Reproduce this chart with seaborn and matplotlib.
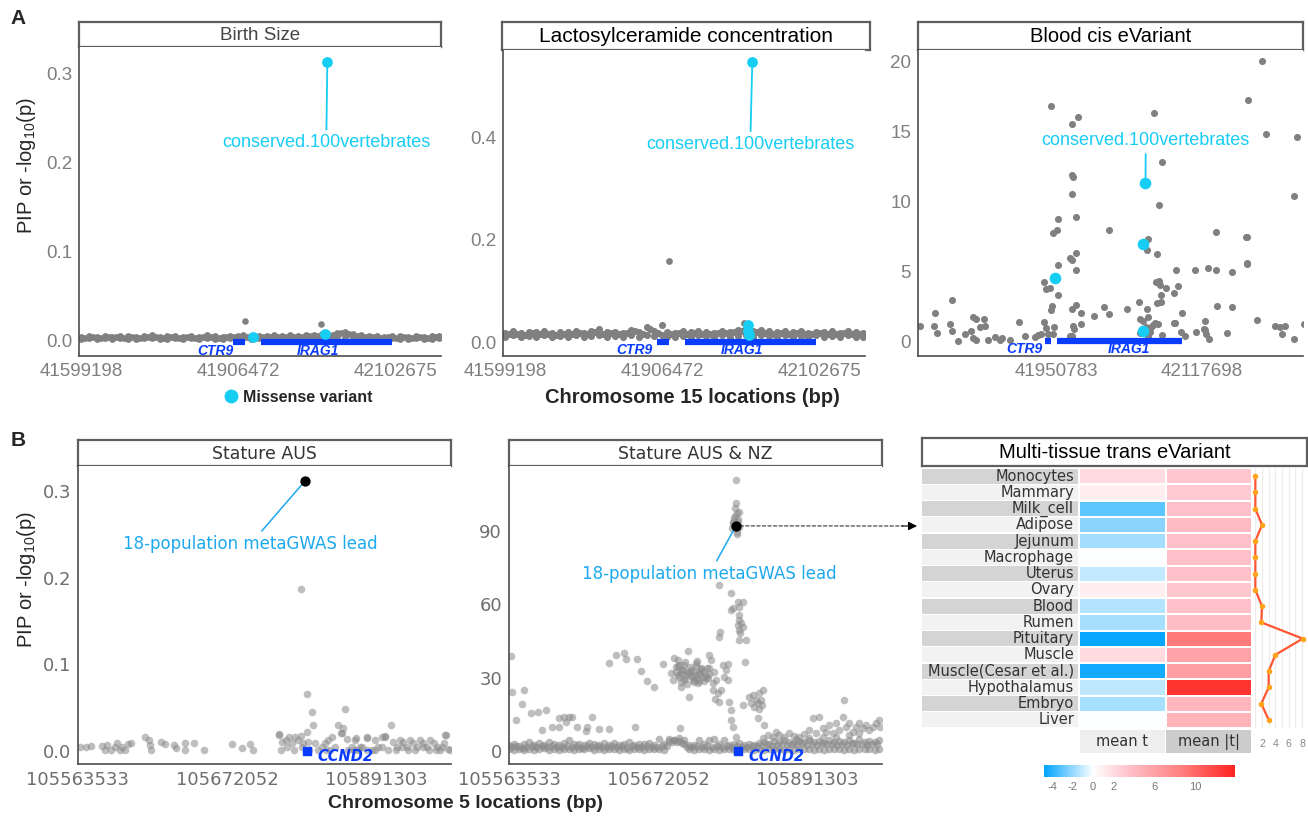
import pandas as pd
import matplotlib.pyplot as plt
import seaborn as sns
from matplotlib.colors import LinearSegmentedColormap
from matplotlib.lines import Line2D

sns.set_style('white')
plt.rcParams['font.family'] = ['Liberation Sans', 'DejaVu Sans']
plt.rcParams['mathtext.default'] = 'regular'
plt.rcParams['axes.unicode_minus'] = False

# ---------------- data ----------------
# panel A: chromosome 15 locus (x = position index along the locus)
a_ticks = [0, 100, 200]
a_ticklabels = ['41599198', '41906472', '42102675']
a3_ticks = [100, 200]
a3_ticklabels = ['41950783', '42117698']

a_band_x = [0, 5, 10, 15, 20, 25, 30, 35, 40, 45,
            50, 55, 60, 65, 70, 75, 80, 85, 90, 95,
            100, 103, 108, 113, 118, 123, 128, 133, 138, 143,
            148, 153, 158, 163, 168, 173, 178, 183, 188, 193,
            198, 203, 208, 213, 218, 223, 228]
a_band_x2 = [2.5, 7.5, 12.5, 17.5, 22.5, 27.5, 32.5, 37.5, 42.5, 47.5,
             52.5, 57.5, 62.5, 67.5, 72.5, 77.5, 82.5, 87.5, 92.5, 97.5,
             105.5, 110.5, 115.5, 120.5, 125.5, 130.5, 135.5, 140.5, 145.5, 150.5,
             155.5, 160.5, 165.5, 170.5, 175.5, 180.5, 185.5, 190.5, 195.5, 200.5,
             205.5, 210.5, 215.5, 220.5, 225.5]
a1_band_lo = [0.0015, 0.002, 0.001, 0.0018, 0.0012, 0.002, 0.0015, 0.001, 0.0018, 0.0022,
              0.0012, 0.0016, 0.002, 0.0012, 0.0018, 0.0014, 0.002, 0.0016, 0.0012, 0.002,
              0.0018, 0.0022, 0.0016, 0.002, 0.0015, 0.002, 0.0018, 0.0022, 0.0016, 0.0024,
              0.002, 0.0026, 0.0022, 0.003, 0.0028, 0.0024, 0.002, 0.0016, 0.002, 0.0014,
              0.0018, 0.0016, 0.0012, 0.0018, 0.0014, 0.0016, 0.0018]
a1_band_hi = [0.003, 0.004, 0.0035, 0.0045, 0.0032, 0.005, 0.004, 0.0034, 0.0042, 0.006,
              0.0035, 0.0042, 0.005, 0.0035, 0.0044, 0.0036, 0.0052, 0.0042, 0.0036, 0.005,
              0.0042, 0.0058, 0.0044, 0.005, 0.0042, 0.0052, 0.0046, 0.0054, 0.0046, 0.006,
              0.0052, 0.0072, 0.006, 0.0082, 0.009, 0.0072, 0.0052, 0.0044, 0.005, 0.0038,
              0.0044, 0.0042, 0.0036, 0.0044, 0.0036, 0.0042, 0.0044]
a1_band_mid = [0.0028, 0.0032, 0.0026, 0.003, 0.0034, 0.0027, 0.0031, 0.0025, 0.0033, 0.0029,
               0.0027, 0.0032, 0.0028, 0.0034, 0.0026, 0.003, 0.0033, 0.0027, 0.0031, 0.0029,
               0.0032, 0.0028, 0.0034, 0.003, 0.0036, 0.0032, 0.0034, 0.0038, 0.004, 0.0044,
               0.005, 0.0062, 0.0075, 0.0068, 0.005, 0.0036, 0.0032, 0.0028, 0.003, 0.0027,
               0.0031, 0.0028, 0.003, 0.0026, 0.0029]
a1_gray_x = [104.5, 152.9]
a1_gray_y = [0.0214, 0.018]
a1_miss_x = [109.6, 155.2, 156.7]
a1_miss_y = [0.0037, 0.0064, 0.3135]

a2_band_lo = [0.011, 0.013, 0.010, 0.012, 0.011, 0.013, 0.010, 0.012, 0.011, 0.013,
              0.010, 0.012, 0.014, 0.011, 0.012, 0.010, 0.013, 0.011, 0.014, 0.012,
              0.013, 0.011, 0.010, 0.012, 0.011, 0.013, 0.012, 0.010, 0.013, 0.011,
              0.012, 0.014, 0.011, 0.013, 0.012, 0.010, 0.013, 0.011, 0.012, 0.010,
              0.013, 0.011, 0.012, 0.010, 0.013, 0.011, 0.010]
a2_band_hi = [0.018, 0.022, 0.017, 0.020, 0.019, 0.021, 0.018, 0.020, 0.019, 0.022,
              0.018, 0.021, 0.026, 0.019, 0.020, 0.018, 0.024, 0.020, 0.030, 0.022,
              0.034, 0.020, 0.018, 0.022, 0.020, 0.021, 0.019, 0.018, 0.022, 0.020,
              0.023, 0.028, 0.022, 0.024, 0.021, 0.019, 0.022, 0.020, 0.021, 0.018,
              0.020, 0.019, 0.021, 0.018, 0.022, 0.020, 0.017]
a2_band_mid = [0.015, 0.016, 0.014, 0.017, 0.015, 0.016, 0.014, 0.016, 0.015, 0.017,
               0.015, 0.019, 0.016, 0.018, 0.015, 0.017, 0.022, 0.016, 0.025, 0.017,
               0.016, 0.018, 0.015, 0.017, 0.016, 0.015, 0.017, 0.018, 0.020, 0.022,
               0.018, 0.020, 0.017, 0.016, 0.018, 0.015, 0.017, 0.016, 0.015, 0.017,
               0.016, 0.015, 0.017, 0.016, 0.015]
a2_gray_x = [104.6, 152.0]
a2_gray_y = [0.159, 0.0377]
a2_miss_x = [154.8, 154.8, 155.5, 157.3]
a2_miss_y = [0.033, 0.021, 0.013, 0.546]

a3_gray_x = [241, 231.3, 96.4, 167.3, 115.3, 111.2, 244, 264.8, 172.6, 110.7,
             111.6, 111.2, 263, 170.3, 113.7, 101.1, 136.1, 97.7, 100.7, 162.8,
             209.3, 230.3, 231.0, 162.5, 169.2, 109.4, 111.2, 113.9, 101.6, 113.7,
             182, 195.2, 203.9, 209.4, 220.3, 230.8, 91.8, 93.2, 95.7, 101.6,
             168.5, 170.3, 170.8, 175.3, 183.6, 180.4, 171.7, 156.8, 162.1, 169.4,
             171.7, 97.3, 96.6, 110.7, 113.7, 116.9, 132.9, 136.1, 125.8, 148.8,
             210, 220.3, 186.5, 201.6, 237.2, 29, 16.9, 16.2, 18.5, 6.6,
             27.6, 28.8, 33.1, 43.2, 45.2, 50.9, 48, 51.6, 37.9, 41.6,
             43.2, 45, 53.4, 58, 61.6, 63.2, 74.4, 68.3, 78.6, 85.8,
             87.9, 89.9, 91.8, 93.2, 94.3, 98.4, 97.7, 111.4, 112.5, 117.3,
             109.4, 111, 157.3, 159.8, 163.2, 166.4, 167.8, 169.9, 161.6, 164.2,
             165.3, 157.3, 163, 172.4, 180.8, 181.7, 185.8, 188.1, 195.6, 201.2,
             202.3, 204.6, 249.8, 253.2, 256.4, 254.4, 263, 269.7, 216.9, 202,
             230.6]
a3_gray_y = [20.0, 17.2, 16.8, 16.3, 16.0, 15.5, 14.8, 14.6, 12.8, 11.9,
             11.7, 10.5, 10.4, 9.7, 8.9, 8.7, 7.9, 7.7, 7.9, 7.3,
             7.8, 7.4, 7.4, 6.5, 6.2, 5.9, 5.8, 6.3, 5.4, 5.1,
             5.1, 5.05, 5.2, 5.1, 4.95, 5.5, 4.2, 3.7, 3.8, 3.3,
             4.2, 4.3, 4.0, 3.8, 3.9, 3.4, 3.3, 2.8, 2.3, 2.7,
             2.8, 2.5, 2.2, 2.3, 2.6, 2.0, 2.4, 1.96, 1.8, 2.3,
             2.5, 2.4, 2.0, 1.4, 1.5, 2.9, 2.0, 1.05, 0.55, 1.07,
             1.2, 0.7, 0.0, 1.7, 1.6, 1.6, 1.0, 1.1, 0.5, 0.7,
             0.24, 0.07, 0.07, 0.3, 0.1, 0.2, 1.36, 0.1, 0.38, 0.26,
             0.43, 0.52, 1.38, 0.95, 0.5, 0.98, 0.5, 1.07, 0.88, 1.2,
             0.36, 0.36, 1.6, 1.4, 1.7, 1.14, 1.3, 1.2, 0.98, 0.67,
             1.02, 0.55, 0.36, 0.43, 1.3, 1.26, 0.67, 0.36, 0.62, 0.83,
             0.5, 0.17, 1.1, 1.02, 1.1, 0.5, 0.17, 1.2, 0.57, 0.8,
             5.55]
a3_miss_x = [99.1, 159.8, 161.2, 159.4]
a3_miss_y = [4.48, 6.93, 11.3, 0.71]

gene_names = ['CTR9', 'IRAG1']
a_gene_start = [96.4, 114.4]
a_gene_end = [104.6, 197.6]
a3_gene_start = [92.2, 100.9]
a3_gene_end = [96.8, 186.5]

# panel B: chromosome 5 locus
b_ticks = [0, 100, 200]
b_ticklabels = ['105563533', '105672052', '105891303']

b1_x = [1.1, 5.6, 8.5, 16.1, 17.9, 19.7, 22.4, 24.6, 26.4, 28.0,
        29.5, 31.3, 33.6, 35.4, 44.8, 47.5, 48.1, 48.8, 55.9, 58.6,
        64.4, 66.0, 71.6, 71.6, 77.9, 84.6, 102.9, 110.1, 115.2, 117.4,
        134.7, 136.9, 139.1, 141.4, 143.2, 145.4, 147.7, 149.4, 151.0, 153.2,
        154.4, 156.6, 157.7, 158.8, 161.1, 163.3, 165.5, 167.8, 168.9, 170.0,
        174.0, 176.7, 177.9, 179.0, 180.1, 181.2, 183.5, 185.7, 187.9, 190.2,
        193.5, 196.9, 199.1, 201.3, 203.6, 205.8, 209.9, 211.4, 213.6, 215.9,
        218.1, 220.4, 222.6, 224.8, 227.1, 229.3, 231.5, 233.8, 236.0, 238.3,
        240.5, 242.7, 245.0, 246.1, 248.3, 153.2, 149.4, 134.9, 186.4, 193.8,
        206.0, 246.5, 176.3, 136, 140, 145, 150, 155, 166, 172,
        185, 189, 194, 199, 204, 208, 213, 217, 221, 226,
        231, 235, 240, 244, 249]
b1_y = [0.005, 0.005, 0.0057, 0.0058, 0.0012, 0.0069, 0.0012, 0.005, 0.0096, 0.0012,
        0.005, 0.0012, 0.0081, 0.0089, 0.0165, 0.0127, 0.0069, 0.0012, 0.0107, 0.0081,
        0.0069, 0.0031, 0.0089, 0.0012, 0.0096, 0.0012, 0.0081, 0.0031, 0.0081, 0.0012,
        0.0192, 0.0107, 0.0127, 0.0158, 0.0089, 0.0158, 0.0127, 0.0173, 0.0089, 0.0223,
        0.0107, 0.0454, 0.03, 0.0096, 0.0012, 0.005, 0.0089, 0.0127, 0.0012, 0.0165,
        0.03, 0.0204, 0.0262, 0.0485, 0.0135, 0.0012, 0.005, 0.0127, 0.0012, 0.005,
        0.0154, 0.0012, 0.0127, 0.005, 0.0165, 0.0173, 0.03, 0.0107, 0.005, 0.0127,
        0.0107, 0.005, 0.0127, 0.0089, 0.005, 0.0127, 0.0096, 0.005, 0.0127, 0.0096,
        0.005, 0.0012, 0.0089, 0.0185, 0.002, 0.0654, 0.187, 0.019, 0.0146, 0.0158,
        0.0165, 0.019, 0.0204, 0.001, 0.005, 0.001, 0.005, 0.001, 0.001, 0.005,
        0.001, 0.005, 0.001, 0.001, 0.005, 0.001, 0.001, 0.005, 0.001, 0.001,
        0.005, 0.001, 0.001, 0.005, 0.001]
b1_lead = (152.3, 0.312)

b2_base_x = [0, 3.4, 6.7, 10.1, 13.4, 16.8, 20.1, 23.5, 26.8, 30.2,
             33.6, 36.9, 40.3, 43.6, 47.0, 50.3, 53.7, 57.0, 60.4, 63.8,
             67.1, 70.5, 73.8, 77.2, 80.5, 83.9, 87.2, 90.6, 94.0, 97.3,
             100.7, 104.0, 107.4, 110.7, 114.1, 117.4, 120.8, 124.2, 127.5, 130.9,
             134.2, 137.6, 140.9, 144.3, 147.7, 151.0, 154.4, 157.7, 161.1, 164.4,
             167.8, 171.1, 174.5, 177.9, 181.2, 184.6, 187.9, 191.3, 194.6, 198.0,
             201.3, 204.7, 208.1, 211.4, 214.8, 218.1, 221.5, 224.8, 228.2, 231.5,
             234.9, 238.3, 241.6, 245.0, 248.3]
b2_base_lo = [0.8, 0.5, 1.0, 0.6, 0.9, 0.5, 0.8, 1.1, 0.6, 0.9,
              0.5, 0.8, 1.0, 0.6, 0.9, 0.7, 1.1, 0.5, 0.8, 0.6,
              1.0, 0.7, 0.5, 0.9, 0.6, 1.0, 0.8, 0.5, 0.9, 0.7,
              1.0, 0.6, 4.2, 4.5, 4.0, 4.4, 0.8, 0.6, 0.9, 0.7,
              0.5, 0.9, 0.6, 1.0, 0.8, 0.5, 0.9, 0.7, 1.0, 0.6,
              0.8, 0.5, 0.9, 0.7, 1.0, 0.6, 0.8, 0.5, 0.9, 0.7,
              1.0, 0.6, 0.8, 0.5, 0.9, 0.7, 1.0, 0.6, 0.8, 0.5,
              0.9, 0.7, 1.0, 0.6, 0.8]
b2_base_hi = [2.5, 3.0, 2.2, 2.8, 3.5, 2.4, 3.1, 2.6, 3.6, 2.9,
              2.3, 3.2, 4.5, 2.7, 3.0, 2.5, 3.4, 2.8, 2.4, 3.1,
              2.6, 3.3, 2.5, 2.9, 3.6, 2.4, 3.0, 2.7, 3.2, 2.5,
              4.8, 2.9, 5.0, 4.6, 5.2, 3.0, 2.6, 2.4, 4.5, 2.8,
              4.6, 4.8, 3.0, 4.5, 2.6, 2.8, 3.2, 2.4, 2.9, 2.6,
              3.4, 3.8, 3.0, 4.2, 3.5, 4.4, 3.6, 3.2, 4.0, 3.8,
              4.4, 3.6, 4.2, 3.4, 4.6, 3.8, 4.0, 3.5, 4.4, 3.2,
              4.8, 3.6, 4.2, 3.8, 4.5]
b2_base_x2 = [1.7, 5.0, 8.4, 11.7, 15.1, 18.4, 21.8, 25.2, 28.5, 31.9,
              35.2, 38.6, 41.9, 45.3, 48.7, 52.0, 55.4, 58.7, 62.1, 65.4,
              68.8, 72.1, 75.5, 78.9, 82.2, 85.6, 88.9, 92.3, 95.6, 99.0,
              102.3, 105.7, 109.1, 112.4, 115.8, 119.1, 122.5, 125.8, 129.2, 132.6,
              135.9, 139.3, 142.6, 146.0, 149.3, 152.7, 156.1, 159.4, 162.8, 166.1,
              169.5, 172.8, 176.2, 179.5, 182.9, 186.3, 189.6, 193.0, 196.3, 199.7,
              203.0, 206.4, 209.8, 213.1, 216.5, 219.8, 223.2, 226.5, 229.9, 233.2,
              236.6, 240.0, 243.3, 246.7]
b2_base_mid = [1.6, 2.0, 1.4, 1.8, 2.2, 1.5, 1.9, 1.7, 2.1, 1.5,
               1.8, 2.2, 1.6, 1.9, 1.4, 2.0, 1.7, 2.1, 1.5, 1.8,
               2.0, 1.6, 1.9, 1.4, 2.1, 1.7, 1.5, 2.0, 1.8, 1.6,
               2.2, 1.9, 3.6, 3.8, 3.4, 1.8, 1.6, 2.0, 1.5, 1.9,
               1.7, 2.1, 1.6, 1.9, 1.5, 2.0, 1.8, 1.6, 2.2, 1.9,
               2.4, 2.8, 2.2, 2.6, 3.0, 2.4, 2.8, 2.5, 3.1, 2.6,
               2.9, 2.4, 3.2, 2.7, 3.0, 2.5, 2.9, 2.6, 3.3, 2.8,
               3.0, 2.5, 2.9, 2.7]
b2_x = [170.0, 173.4, 176.7, 179.0, 181.2, 184.6, 187.9, 191.3, 194.6, 198.0,
        201.3, 203.6, 205.8, 208.1, 210.3, 212.5, 214.8, 217.0, 219.2, 221.5,
        223.7, 224.8, 226.0, 228.2, 230.4, 232.7, 234.9, 237.1, 239.4, 241.6,
        243.8, 246.1, 248.3, 248.8, 234.9, 228.2, 219.2, 210.3, 201.3, 192.4,
        152.1, 152.1, 151.7, 152.8, 151.0, 153.2, 150.3, 149.4, 154.4, 153.0,
        150.3, 140.9, 148.8, 153.2, 156.6, 154.4, 148.8, 149.9, 153.9, 154.4,
        155.5, 153.2, 156.6, 154.4, 155.0, 158.8, 154.4, 158.4, 141.6, 140.5,
        147.7, 148.8, 148.8, 149.9, 152.1, 156.6, 161.1, 163.3, 165.5, 167.8,
        168.9, 170.0, 162.2, 166.7, 164.4, 167.8, 169.6, 171.1, 166.7, 110.7,
        113.0, 111.9, 114.1, 115.2, 113.0, 116.3, 118.6, 120.8, 123.0, 121.9,
        125.3, 127.5, 129.8, 132.0, 133.1, 128.6, 125.3, 119.7, 117.4, 115.2,
        120.8, 124.2, 127.5, 134.2, 135.3, 133.8, 137.6, 138.7, 136.5, 139.8,
        138.3, 143.2, 145.4, 146.5, 144.3, 146.5, 136.9, 142.1, 140.5, 108.5,
        109.6, 1.1, 1.8, 10.1, 8.5, 14.5, 19.7, 24.6, 33.6, 36.9,
        40.3, 42.5, 38.5, 29.1, 33.6, 45.9, 52.6, 55.9, 60.4, 67.1,
        67.1, 72.0, 77.2, 78.7, 85.5, 88.4, 92.8, 97.3, 102.9, 84.6,
        114.5, 4.5, 22.4, 51.5]
b2_y = [5.2, 6.5, 5.9, 7.9, 6.5, 5.9, 7.2, 6.2, 5.6, 6.9,
        8.6, 13.4, 7.2, 14.0, 9.3, 7.9, 10.6, 7.2, 11.3, 8.6,
        14.0, 20.9, 10.0, 11.3, 7.9, 10.0, 11.3, 9.3, 10.6, 8.6,
        10.0, 11.3, 12.7, 10.0, 7.2, 6.5, 5.9, 5.9, 5.2, 4.8,
        110.9, 101.3, 99.3, 97.2, 95.2, 93.8, 93.2, 91.1, 91.8, 88.8,
        93.8, 68.0, 64.8, 61.1, 61.1, 59.1, 57.7, 58.4, 55.6, 53.6,
        52.2, 51.6, 50.9, 49.5, 48.1, 45.4, 45.4, 36.5, 48.8, 46.8,
        20.2, 16.8, 12.7, 10.0, 5.9, 18.8, 22.2, 22.9, 20.9, 23.6,
        20.9, 25.0, 19.5, 19.5, 18.1, 17.4, 18.8, 10.6, 13.6, 37.9,
        37.2, 34.5, 35.2, 31.8, 31.1, 33.1, 31.1, 31.8, 30.4, 33.1,
        31.1, 31.8, 30.4, 31.1, 29.7, 33.8, 35.9, 41.1, 29.1, 26.3,
        22.2, 28.4, 28.8, 39.3, 37.2, 33.8, 32.5, 29.1, 25.0, 23.6,
        21.1, 35.2, 33.1, 35.6, 30.4, 29.1, 27.7, 25.0, 20.2, 31.8,
        29.1, 38.9, 24.3, 25.0, 19.2, 15.4, 16.1, 16.8, 13.4, 14.0,
        13.8, 14.0, 12.0, 9.9, 9.9, 9.9, 9.9, 14.0, 8.9, 8.9,
        35.9, 39.4, 40.2, 37.5, 37.5, 32.9, 28.8, 26.3, 35.6, 9.9,
        9.5, 12.7, 8.6, 8.3]
b2_blob_x = [112, 114, 116, 118, 120, 122, 124, 126, 128, 130,
             132, 134, 113, 115, 117, 119, 121, 123, 125, 127,
             129, 131, 133, 118, 126, 151.5, 153.5, 152.5, 150.8, 154.2]
b2_blob_y = [32.5, 30.2, 33.0, 29.8, 32.2, 30.5, 32.8, 29.6, 31.6, 32.9,
             30.0, 31.4, 34.6, 28.4, 35.0, 27.5, 34.2, 29.0, 34.6, 27.8,
             33.4, 28.6, 34.0, 36.4, 36.8, 96.0, 94.8, 89.6, 92.6, 97.8]
b2_lead = (152.1, 92.1)
b_gene = ('CCND2', 153.6)

# panel B right: multi-tissue trans eVariant
tissues = ['Monocytes', 'Mammary', 'Milk_cell', 'Adipose', 'Jejunum', 'Macrophage',
           'Uterus', 'Ovary', 'Blood', 'Rumen', 'Pituitary', 'Muscle',
           'Muscle(Cesar et al.)', 'Hypothalamus', 'Embryo', 'Liver']
mean_t = [2.0, 0.9, -3.0, -2.2, -1.7, 0.0, -1.1, 0.9, -1.4, -1.6,
          -4.6, 2.0, -4.4, -1.2, -1.6, 0.0]
mean_abs_t = [3.2, 3.0, 3.6, 4.0, 3.6, 3.6, 3.6, 3.2, 3.6, 3.8,
              9.0, 5.8, 6.2, 13.0, 4.2, 4.6]
tissue_line = [1.0, 1.0, 1.0, 2.0, 1.0, 1.0, 1.0, 1.0, 2.0, 1.9,
               8.1, 4.0, 3.0, 3.0, 1.9, 3.0]
cbar_ticks = [-4, -2, 0, 2, 6, 10]

# ---------------- styling ----------------
W, H = 1308, 817
cyan = '#16CDF4'
gene_blue = '#0A3CFF'
lead_blue = '#1CA9EE'
gray_a = '#808080'
gray_b = '#8a8a8a'

fig = plt.figure(figsize=(W / 100, H / 100), dpi=100)


def box(l, t, r, b):
    return [l / W, 1 - b / H, (r - l) / W, (b - t) / H]


def strip(l, t, r, b, title, size, color='black', family=None):
    ax = fig.add_axes(box(l, t, r, b))
    ax.set_xticks([])
    ax.set_yticks([])
    for s in ax.spines.values():
        s.set_color('#5e5e5e')
        s.set_linewidth(1.6)
    ax.text(0.5, 0.47, title, ha='center', va='center', fontsize=size, color=color,
            family=family or ['Liberation Sans'])
    return ax


def panel(l, t, r, b, xlim, ylim, xt, xtl, yt, ytl, family='Liberation Sans',
          tcolor='#7f7f7f', size=13.5):
    ax = fig.add_axes(box(l, t, r, b))
    ax.set_xlim(xlim)
    ax.set_ylim(ylim)
    ax.set_xticks(xt, xtl)
    ax.set_yticks(yt, ytl)
    sns.despine(ax=ax)
    for s in ['left', 'bottom']:
        ax.spines[s].set_color('#4d4d4d')
        ax.spines[s].set_linewidth(1.2)
    ax.tick_params(labelsize=size, labelcolor=tcolor, color='#4d4d4d', length=3, width=1, pad=2)
    for lbl in ax.get_xticklabels() + ax.get_yticklabels():
        lbl.set_family(family)
    ax.set_xlabel('')
    ax.set_ylabel('')
    return ax


def gene_track(ax, starts, ends, y, label_x, label_y, lw=4.5):
    for name, s, e, lx in zip(gene_names, starts, ends, label_x):
        ax.plot([s, e], [y, y], color=gene_blue, lw=lw, solid_capstyle='butt', zorder=3)
        ax.text(lx, label_y, name, color=gene_blue, fontsize=10, fontweight='bold',
                fontstyle='italic', ha='center', va='center', clip_on=True, zorder=4)


def dots(ax, x, y, color, s, alpha=1.0, z=2):
    sns.scatterplot(x=x, y=y, ax=ax, color=color, s=s, linewidth=0, alpha=alpha,
                    legend=False, zorder=z)


# ---- A1 Birth Size ----
strip(79, 22, 441, 47, 'Birth Size', 13.5, color='#444444')
ax = panel(79, 47, 441, 356, (-1.3, 229), (-0.018, 0.330), a_ticks, a_ticklabels,
           [0, 0.1, 0.2, 0.3], ['0.0', '0.1', '0.2', '0.3'])
dots(ax, a_band_x, a1_band_lo, gray_a, 24)
dots(ax, a_band_x, a1_band_hi, gray_a, 24)
dots(ax, a_band_x2, a1_band_mid, gray_a, 24)
dots(ax, a1_gray_x, a1_gray_y, gray_a, 22)
gene_track(ax, a_gene_start, a_gene_end, -0.0026, [85.4, 150.5], -0.0125)
dots(ax, a1_miss_x, a1_miss_y, cyan, 60, z=5)
ax.annotate('conserved.100vertebrates', xy=(a1_miss_x[-1], a1_miss_y[-1]), xytext=(156, 0.222),
            ha='center', va='center', color=cyan, fontsize=13,
            arrowprops=dict(arrowstyle='-', color=cyan, lw=1.3, shrinkA=1, shrinkB=3))
ax.legend(handles=[Line2D([], [], marker='o', ls='', color=cyan, markersize=9)],
          labels=['Missense variant'], loc='center left', bbox_to_anchor=(213 / W, 1 - 397 / H),
          bbox_transform=fig.transFigure, frameon=False, handletextpad=0.2, borderpad=0,
          handlelength=1.2, prop={'weight': 'bold', 'size': 11.5})

# ---- A2 Lactosylceramide ----
strip(502, 22, 870, 50, 'Lactosylceramide concentration', 15)
ax = panel(503, 50, 865, 356, (-1.3, 229), (-0.027, 0.570), a_ticks, a_ticklabels,
           [0, 0.2, 0.4], ['0.0', '0.2', '0.4'])
dots(ax, a_band_x, a2_band_lo, gray_a, 26)
dots(ax, a_band_x, a2_band_hi, gray_a, 26)
dots(ax, a_band_x2, a2_band_mid, gray_a, 26)
dots(ax, a2_gray_x, a2_gray_y, gray_a, 24)
gene_track(ax, a_gene_start, a_gene_end, 0.0, [82.6, 151], -0.0156)
dots(ax, a2_miss_x, a2_miss_y, cyan, 60, z=5)
ax.annotate('conserved.100vertebrates', xy=(a2_miss_x[-1], a2_miss_y[-1]), xytext=(156, 0.386),
            ha='center', va='center', color=cyan, fontsize=13,
            arrowprops=dict(arrowstyle='-', color=cyan, lw=1.3, shrinkA=1, shrinkB=3))

# ---- A3 Blood cis eVariant ----
strip(918, 22, 1303, 50, 'Blood cis eVariant', 14.5)
ax = panel(918, 50, 1303, 356, (5.5, 269), (-1.07, 20.8), a3_ticks, a3_ticklabels,
           [0, 5, 10, 15, 20], ['0', '5', '10', '15', '20'])
dots(ax, a3_gray_x, a3_gray_y, gray_a, 26)
gene_track(ax, a3_gene_start, a3_gene_end, 0.0, [78.1, 149.8], -0.55)
dots(ax, a3_miss_x, a3_miss_y, cyan, 70, z=5)
ax.annotate('conserved.100vertebrates', xy=(a3_miss_x[2], a3_miss_y[2]), xytext=(161.4, 14.3),
            ha='center', va='center', color=cyan, fontsize=13,
            arrowprops=dict(arrowstyle='-', color=cyan, lw=1.3, shrinkA=1, shrinkB=4))

# ---- B1 Stature AUS ----
strip(78, 440, 451, 466, 'Stature AUS', 12.5, color='#333333', family=['DejaVu Sans'])
ax = panel(78, 466, 451, 764, (0, 250), (-0.015, 0.329), b_ticks, b_ticklabels,
           [0, 0.1, 0.2, 0.3], ['0.0', '0.1', '0.2', '0.3'], family='DejaVu Sans',
           tcolor='#6e6e6e', size=13)
dots(ax, b1_x, b1_y, gray_b, 30, alpha=0.55)
ax.scatter([b_gene[1]], [0.0], marker='s', s=40, color=gene_blue, zorder=4)
ax.text(160.5, -0.0068, b_gene[0], color=gene_blue, fontsize=10.5, fontweight='bold',
        fontstyle='italic', ha='left', va='center', family='DejaVu Sans')
dots(ax, [b1_lead[0]], [b1_lead[1]], 'black', 55, z=5)
ax.annotate('18-population metaGWAS lead', xy=b1_lead, xytext=(115.4, 0.2385),
            ha='center', va='center', color=lead_blue, fontsize=12, family='DejaVu Sans',
            arrowprops=dict(arrowstyle='-', color=lead_blue, lw=1.1, shrinkA=1, shrinkB=2))

# ---- B2 Stature AUS & NZ ----
strip(509, 440, 882, 466, 'Stature AUS & NZ', 12.5, color='#333333', family=['DejaVu Sans'])
ax = panel(509, 466, 882, 764, (0, 250), (-5.3, 116.6), b_ticks, b_ticklabels,
           [0, 30, 60, 90], ['0', '30', '60', '90'], family='DejaVu Sans',
           tcolor='#6e6e6e', size=13)
dots(ax, b2_base_x, b2_base_lo, gray_b, 30, alpha=0.6)
dots(ax, b2_base_x, b2_base_hi, gray_b, 30, alpha=0.6)
dots(ax, b2_base_x2, b2_base_mid, gray_b, 30, alpha=0.6)
dots(ax, b2_x, b2_y, gray_b, 30, alpha=0.55)
dots(ax, b2_blob_x, b2_blob_y, gray_b, 30, alpha=0.55)
ax.scatter([b_gene[1]], [0.0], marker='s', s=40, color=gene_blue, zorder=4)
ax.text(160.5, -2.3, b_gene[0], color=gene_blue, fontsize=10.5, fontweight='bold',
        fontstyle='italic', ha='left', va='center', family='DejaVu Sans')
dots(ax, [b2_lead[0]], [b2_lead[1]], 'black', 55, z=5)
ax.annotate('18-population metaGWAS lead', xy=b2_lead, xytext=(134.2, 72.3),
            ha='center', va='center', color=lead_blue, fontsize=12, family='DejaVu Sans',
            arrowprops=dict(arrowstyle='-', color=lead_blue, lw=1.1, shrinkA=1, shrinkB=2))
ax.annotate('', xy=(903 / W, 1 - 526 / H), xycoords='figure fraction', xytext=b2_lead,
            textcoords='data', annotation_clip=False,
            arrowprops=dict(arrowstyle='-', color='#333333', lw=0.8, ls=(0, (3, 2)),
                            shrinkA=3, shrinkB=0))
ax.annotate('', xy=(917 / W, 1 - 526 / H), xycoords='figure fraction',
            xytext=(902 / W, 1 - 526 / H), textcoords='figure fraction', annotation_clip=False,
            arrowprops=dict(arrowstyle='-|>', color='black', lw=0.8, mutation_scale=13,
                            shrinkA=0, shrinkB=0))

# ---- B3 heatmap ----
strip(922, 438, 1307, 466, 'Multi-tissue trans eVariant', 14.5)
n = len(tissues)
lab = fig.add_axes(box(922, 468, 1078, 728))
lab.set_xlim(0, 1)
lab.set_ylim(n, 0)
lab.axis('off')
for i, t in enumerate(tissues):
    lab.axhspan(i + 0.04, i + 0.96, color='#d4d4d4' if i % 2 == 0 else '#f2f2f2', lw=0)
    lab.text(0.975, i + 0.5, t, ha='right', va='center', fontsize=10.5, color='#333333',
             family='DejaVu Sans')

cmap = LinearSegmentedColormap.from_list(
    'bwr_custom', [(0, '#00A3FF'), (0.257, '#FFFFFF'), (0.45, '#FFBFC8'),
                   (0.72, '#FF8080'), (1, '#FF2420')])
df = pd.DataFrame({'mean t': mean_t, 'mean |t|': mean_abs_t}, index=tissues)
hax = fig.add_axes(box(1079, 468, 1252, 728))
cax = fig.add_axes(box(1044, 765, 1235, 777))
sns.heatmap(df, ax=hax, cmap=cmap, vmin=-4.8, vmax=13.9, linewidths=1.2, linecolor='white',
            xticklabels=False, yticklabels=False, cbar_ax=cax,
            cbar_kws={'orientation': 'horizontal', 'ticks': cbar_ticks})
cax.tick_params(labelsize=8, labelcolor='#777777', length=3, color='white', direction='in')
cax.xaxis.set_ticks_position('bottom')
for s in cax.spines.values():
    s.set_visible(False)

cl = fig.add_axes(box(1079, 730, 1252, 753))
cl.set_xlim(0, 2)
cl.set_ylim(0, 1)
cl.axis('off')
for j, (name, c) in enumerate(zip(df.columns, ['#eeeeee', '#cccccc'])):
    cl.axvspan(j + 0.006, j + 0.994, color=c, lw=0)
    cl.text(j + 0.5, 0.5, name, ha='center', va='center', fontsize=10.5, color='#333333',
            family='DejaVu Sans')

lax = fig.add_axes(box(1252, 468, 1308, 728))
line_df = pd.DataFrame({'value': tissue_line, 'row': [i + 0.5 for i in range(n)]})
lax.set_xlim(0.5, 8.9)
lax.set_ylim(n, 0)
lax.set_xticks([2, 4, 6, 8])
lax.set_xticks([1, 3, 5, 7], minor=True)
lax.set_yticks([])
lax.grid(axis='x', which='both', color='#ececec', lw=0.8)
sns.lineplot(data=line_df, x='value', y='row', orient='y', sort=False, ax=lax,
             color='#FF5533', lw=1.6, marker='o', markersize=4, markerfacecolor='#FFA31A',
             markeredgewidth=0)
for s in lax.spines.values():
    s.set_visible(False)
lax.tick_params(axis='x', labelsize=7.5, labelcolor='#888888', length=2, color='#aaaaaa', pad=6)
lax.tick_params(axis='x', which='minor', length=0)
lax.set_xlabel('')
lax.set_ylabel('')

# ---- shared labels ----
fig.text(18 / W, 1 - 18 / H, 'A', fontsize=15, fontweight='bold', ha='center', va='center')
fig.text(18 / W, 1 - 440 / H, 'B', fontsize=15, fontweight='bold', ha='center', va='center')
fig.text(26 / W, 1 - 166 / H, 'PIP or -log$_{10}$(p)', rotation=90, fontsize=14.5,
         ha='center', va='center')
fig.text(26 / W, 1 - 580 / H, 'PIP or -log$_{10}$(p)', rotation=90, fontsize=14.5,
         ha='center', va='center')
fig.text(692 / W, 1 - 398 / H, 'Chromosome 15 locations (bp)', fontsize=14.5,
         fontweight='bold', ha='center', va='center')
fig.text(466 / W, 1 - 803 / H, 'Chromosome 5 locations (bp)', fontsize=14,
         fontweight='bold', ha='center', va='center')

fig.savefig('out.png', dpi=100, facecolor='white')
